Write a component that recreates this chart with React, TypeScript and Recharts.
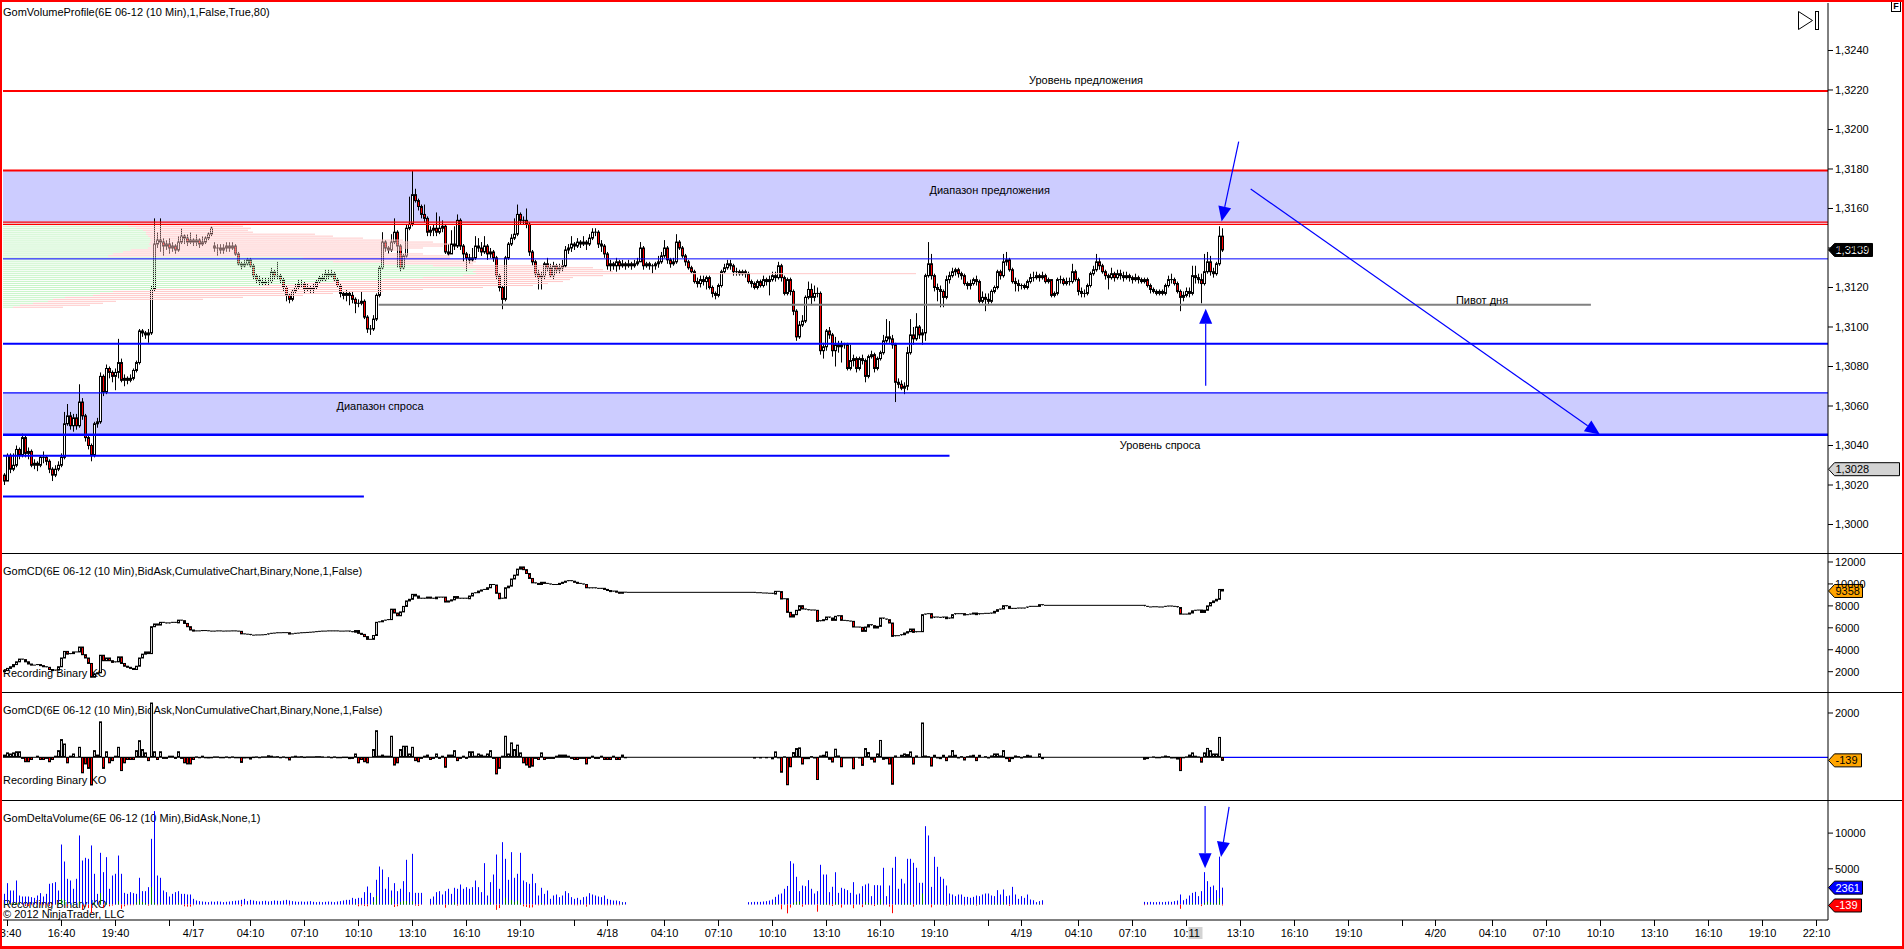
import React from 'react';
import { ComposedChart, Bar, XAxis, YAxis, ReferenceLine, ReferenceArea, ReferenceDot } from 'recharts';

const FONT = '"Liberation Sans", Arial, sans-serif';
const W = 1904;

// ---------- price data (6E 06-12, 10 min), in pips: 13139 = 1,3139 ----------
const firstOpen = 13025;
const gapOpens: [number, number][] = [[70, 13141]];
const closes = [
  13022,13035,13028,13030,13038,13035,13044,13036,13037,13030,
  13031,13030,13034,13034,13032,13028,13025,13028,13030,13034,
  13051,13055,13050,13054,13050,13062,13055,13044,13040,13035,
  13051,13052,13075,13067,13079,13077,13075,13077,13082,13073,
  13074,13073,13074,13078,13082,13098,13097,13096,13097,13119,
  13142,13144,13143,13141,13142,13140,13141,13139,13143,13146,
  13145,13143,13144,13143,13144,13142,13143,13145,13147,13150,
  13140,13140,13139,13140,13141,13140,13141,13137,13132,13131,
  13132,13134,13131,13126,13124,13123,13122,13123,13123,13128,
  13126,13126,13124,13120,13116,13114,13118,13120,13122,13122,
  13119,13120,13119,13120,13123,13125,13124,13127,13126,13127,
  13124,13121,13117,13116,13117,13116,13114,13112,13112,13113,
  13105,13099,13099,13104,13116,13130,13143,13140,13139,13143,
  13148,13141,13130,13136,13150,13152,13167,13164,13161,13157,
  13155,13148,13149,13150,13148,13150,13151,13138,13137,13142,
  13141,13154,13141,13137,13135,13134,13135,13141,13140,13138,
  13141,13137,13138,13135,13126,13120,13114,13135,13142,13145,
  13147,13157,13154,13154,13152,13138,13133,13127,13125,13126,
  13132,13130,13126,13131,13129,13130,13131,13139,13140,13142,
  13141,13143,13142,13143,13142,13145,13148,13148,13142,13141,
  13137,13131,13132,13131,13133,13131,13132,13131,13132,13131,
  13132,13133,13140,13131,13132,13131,13131,13132,13133,13136,
  13140,13134,13132,13133,13143,13140,13136,13133,13130,13128,
  13123,13122,13124,13123,13125,13120,13117,13116,13121,13128,
  13130,13132,13131,13128,13128,13127,13128,13127,13123,13122,
  13120,13123,13121,13124,13123,13124,13126,13125,13131,13125,
  13117,13124,13118,13108,13095,13101,13103,13115,13119,13115,
  13117,13117,13088,13090,13098,13096,13088,13091,13090,13091,
  13091,13079,13083,13084,13079,13084,13083,13075,13085,13086,
  13079,13084,13087,13093,13095,13094,13091,13072,13071,13069,
  13070,13087,13096,13094,13100,13096,13097,13126,13132,13126,
  13120,13119,13118,13115,13124,13126,13128,13129,13127,13126,
  13122,13121,13122,13124,13123,13113,13115,13114,13113,13118,
  13120,13128,13126,13133,13134,13129,13123,13122,13121,13121,
  13120,13123,13125,13125,13126,13125,13126,13123,13124,13116,
  13117,13124,13124,13122,13123,13123,13128,13124,13118,13117,
  13117,13121,13127,13129,13133,13131,13128,13126,13125,13127,
  13125,13127,13126,13125,13126,13125,13124,13125,13124,13123,
  13124,13121,13119,13118,13117,13118,13117,13121,13124,13124,
  13122,13118,13115,13116,13118,13117,13126,13125,13124,13122,
  13128,13133,13128,13127,13132,13146,13139,
];
const highs = [
  13026,13036,13036,13036,13040,13039,13046,13045,13039,13038,
  13033,13032,13035,13037,13035,13033,13029,13030,13032,13036,
  13057,13061,13057,13056,13056,13071,13064,13056,13045,13041,
  13052,13054,13077,13076,13081,13080,13078,13079,13094,13084,
  13076,13075,13076,13079,13083,13099,13099,13098,13099,13121,
  13155,13148,13155,13145,13144,13145,13143,13142,13146,13150,
  13147,13147,13148,13145,13147,13145,13146,13146,13148,13151,
  13143,13142,13142,13142,13143,13143,13143,13142,13138,13133,
  13134,13135,13135,13132,13127,13126,13125,13125,13125,13130,
  13129,13133,13127,13125,13121,13117,13119,13122,13124,13124,
  13123,13122,13121,13122,13124,13126,13127,13129,13129,13129,
  13128,13125,13122,13118,13119,13118,13118,13115,13114,13118,
  13114,13106,13101,13106,13117,13131,13148,13144,13141,13147,
  13155,13149,13142,13137,13152,13166,13179,13170,13165,13162,
  13162,13156,13151,13152,13158,13156,13154,13152,13142,13149,
  13151,13157,13155,13142,13138,13137,13140,13146,13145,13143,
  13146,13142,13140,13139,13136,13127,13121,13136,13143,13147,
  13155,13162,13158,13156,13160,13153,13139,13134,13129,13128,
  13133,13135,13132,13133,13132,13132,13134,13141,13142,13146,
  13143,13145,13144,13146,13144,13147,13150,13150,13149,13144,
  13142,13138,13134,13133,13135,13134,13134,13133,13134,13133,
  13134,13135,13143,13141,13133,13133,13132,13133,13136,13138,
  13144,13141,13135,13135,13147,13144,13141,13137,13134,13131,
  13129,13125,13126,13126,13126,13126,13121,13118,13122,13129,
  13132,13134,13134,13132,13130,13129,13129,13129,13128,13124,
  13123,13124,13124,13126,13125,13126,13128,13128,13133,13132,
  13126,13125,13125,13119,13109,13103,13106,13116,13123,13122,
  13121,13120,13118,13092,13099,13100,13097,13095,13093,13093,
  13092,13092,13091,13086,13085,13085,13086,13084,13086,13088,
  13087,13085,13088,13096,13104,13103,13096,13092,13074,13073,
  13072,13090,13104,13100,13107,13101,13099,13127,13143,13137,
  13127,13122,13121,13119,13126,13128,13130,13130,13130,13128,
  13127,13123,13124,13125,13126,13124,13118,13117,13117,13119,
  13121,13129,13129,13137,13138,13135,13130,13125,13124,13122,
  13122,13124,13127,13128,13128,13127,13128,13127,13125,13124,
  13118,13125,13126,13125,13125,13125,13132,13129,13125,13120,
  13119,13122,13128,13131,13137,13135,13132,13129,13127,13130,
  13128,13129,13129,13128,13128,13127,13126,13127,13126,13125,
  13125,13125,13122,13120,13119,13119,13119,13122,13126,13127,
  13125,13123,13119,13118,13120,13120,13131,13131,13127,13127,
  13137,13138,13136,13130,13133,13151,13150,
];
const lows = [
  13020,13022,13026,13027,13029,13033,13034,13034,13033,13029,
  13028,13027,13029,13031,13030,13026,13022,13024,13027,13029,
  13033,13050,13048,13047,13048,13049,13053,13042,13038,13032,
  13034,13049,13051,13065,13066,13074,13072,13068,13074,13072,
  13070,13071,13072,13073,13077,13081,13095,13094,13092,13096,
  13118,13140,13138,13136,13139,13137,13138,13137,13138,13142,
  13142,13141,13142,13141,13141,13140,13141,13142,13144,13146,
  13138,13136,13137,13137,13138,13138,13139,13136,13131,13129,
  13130,13131,13130,13124,13122,13121,13121,13121,13121,13122,
  13124,13124,13122,13118,13113,13112,13113,13117,13119,13120,
  13117,13118,13117,13117,13119,13122,13123,13123,13124,13125,
  13123,13120,13115,13114,13113,13111,13112,13107,13110,13111,
  13104,13097,13096,13098,13103,13115,13129,13138,13137,13138,
  13142,13130,13128,13129,13135,13149,13151,13163,13159,13155,
  13153,13146,13146,13146,13146,13147,13148,13137,13136,13139,
  13139,13140,13139,13133,13128,13132,13133,13134,13138,13136,
  13137,13134,13135,13133,13124,13118,13109,13113,13134,13141,
  13144,13146,13152,13152,13150,13136,13131,13125,13119,13119,
  13124,13128,13125,13124,13127,13127,13128,13130,13137,13138,
  13139,13140,13140,13141,13139,13141,13144,13146,13140,13138,
  13135,13129,13128,13129,13128,13129,13130,13129,13130,13129,
  13130,13131,13133,13129,13130,13129,13127,13129,13130,13132,
  13135,13132,13130,13131,13132,13139,13135,13131,13129,13127,
  13122,13120,13120,13121,13119,13119,13115,13114,13115,13120,
  13127,13129,13129,13126,13126,13126,13126,13125,13122,13120,
  13119,13119,13120,13120,13121,13116,13123,13123,13124,13123,
  13116,13116,13116,13106,13093,13094,13100,13102,13114,13111,
  13113,13115,13086,13084,13088,13094,13085,13080,13087,13082,
  13089,13078,13078,13080,13077,13078,13081,13072,13074,13084,
  13077,13078,13083,13086,13092,13092,13089,13062,13069,13068,
  13066,13068,13086,13091,13093,13094,13091,13093,13125,13124,
  13118,13113,13110,13110,13114,13122,13125,13126,13125,13124,
  13121,13119,13119,13121,13121,13112,13112,13108,13111,13112,
  13117,13119,13124,13125,13131,13128,13122,13118,13118,13119,
  13119,13119,13122,13123,13124,13123,13124,13122,13122,13115,
  13115,13116,13122,13121,13121,13121,13122,13123,13116,13115,
  13115,13116,13120,13126,13128,13129,13127,13124,13119,13124,
  13123,13124,13124,13123,13124,13123,13122,13123,13122,13122,
  13122,13120,13117,13117,13116,13116,13116,13116,13120,13122,
  13121,13117,13108,13113,13115,13115,13116,13122,13122,13112,
  13121,13127,13126,13125,13126,13131,13138,
];

// ---------- GomCD cumulative delta, recorded segments ----------
const cdFirstOpen = 2000;
const cdSeg1Start = 0;
const cdSeg1 = [
  2100,2300,2450,2650,2900,3150,3100,2900,2700,2600,
  2600,2650,2550,2450,2400,2200,2100,2150,2450,3250,
  3850,3600,3650,3800,3800,4250,3550,3250,2750,1500,
  1800,1900,3500,3000,3250,3000,2850,2900,3350,2750,
  2500,2400,2300,2200,2500,3250,3600,3800,3650,6100,
  6350,6250,6500,6450,6400,6450,6500,6450,6700,6650,
  6400,6100,5800,5700,5720,5700,5750,5730,5700,5680,
  5700,5720,5700,5690,5710,5700,5720,5700,5680,5450,
  5420,5400,5320,5330,5350,5340,5360,5380,5450,5500,
  5520,5550,5540,5560,5550,5430,5450,5500,5520,5550,
  5560,5580,5600,5620,5650,5680,5700,5700,5720,5700,
  5720,5700,5690,5700,5710,5650,5600,5750,5500,5400,
  5200,4950,4950,5300,6500,6550,6650,6700,6750,7700,
  7350,7100,7450,7950,8450,8600,9050,8900,8700,8650,
  8700,8800,8700,8650,8800,8750,8800,8350,8450,8550,
  8850,8700,8650,8700,8650,8900,9150,9200,9350,9450,
  9500,9650,9950,9900,9150,8650,8700,9650,9800,10450,
  10800,11350,11550,11300,10950,10500,10100,10050,9950,10150,
  10050,10000,9950,9900,9950,10050,10150,10250,10300,10250,
  10150,10050,10000,9950,9650,9600,9650,9600,9550,9600,
  9500,9400,9300,9350,9250,9150,9250,9234,
];
const cdSeg2Start = 248;
const cdSeg2 = [
  9234,9234,9200,9200,9173,9173,9150,9150,9080,9325,
  9300,8626,8650,7411,6985,7198,7593,8018,7715,7654,
  7593,7625,7593,6590,6650,6742,6985,6894,6681,7046,
  7107,6681,6650,6620,6590,6073,6073,6043,5678,6073,
  6286,6195,5982,6134,6894,6803,6742,6438,5222,5283,
  5283,5374,5526,5648,5891,5587,5648,5648,7198,7258,
  7289,6894,6985,6955,6894,6985,6833,6894,7198,7289,
  7258,7289,7167,7198,7258,7350,7200,7289,7289,7320,
  7289,7350,7502,7654,7715,8018,7958,7775,7715,7775,
  7806,7775,7806,7897,7958,7958,7958,8110,8049,
];
const cdSeg3Start = 380;
const cdSeg3 = [
  7958,7900,7900,7920,7900,7880,7900,7958,7990,7958,
  7930,7850,7250,7230,7250,7350,7550,7600,7620,7400,
  7600,8000,8300,8450,8600,9497,9358,
];

// ---------- GomDeltaVolume: bar volume, same segments ----------
const volSeg1 = [
  1500,2990,1960,1960,3360,1260,1120,1120,1120,1030,
  930,1260,1590,1120,1490,2900,2990,3130,1960,8400,
  6020,3600,3360,2200,3600,9670,6160,6540,6400,8270,
  4300,1490,7240,4530,6630,2200,4060,4300,6860,4300,
  1630,1490,1730,1590,1490,3740,1870,1870,2430,9200,
  13080,4060,3740,1960,1730,1120,1490,1730,1870,1490,
  1490,1400,1400,790,560,470,420,380,330,420,
  380,450,400,330,380,420,470,520,560,650,
  790,470,650,560,470,420,470,520,420,470,
  560,520,470,560,650,560,470,420,380,420,
  380,420,470,380,330,380,330,380,420,380,
  330,420,470,560,650,650,930,790,930,930,
  1730,2520,1630,1030,3460,5320,4900,2200,3830,1960,
  2990,1870,2200,3270,6260,1730,7100,1630,1630,1630,
  0,0,790,1120,1730,1870,1400,1870,2200,1490,
  2340,2200,2800,2200,2430,2200,2430,3360,2430,1730,
  5790,1260,3130,4200,7000,2200,8730,6400,3460,7330,
  3740,4300,7240,3360,3130,2900,4300,2990,1260,2340,
  1490,1960,790,1260,1400,1030,1260,1870,1590,1030,
  790,930,650,1030,1120,1590,1400,1260,1120,1030,
  1260,790,650,560,560,470,330,330,
];
const volSeg2 = [
  330,330,370,370,370,420,470,560,700,1070,
  1400,1540,2200,2600,6070,5740,3880,1870,2660,2570,
  3410,2200,1540,1870,5560,4200,4200,1730,2480,4520,
  1630,2340,2200,2010,1630,3130,1400,1540,2570,2800,
  2940,1170,2710,2710,2660,5140,1170,2660,5140,6680,
  2200,3600,2940,6400,6400,5840,5140,3040,3040,10970,
  9670,2470,6680,5280,3880,3600,2660,1540,1400,1170,
  1400,1400,1070,1070,940,1070,1260,1170,1400,1540,
  1540,1260,1170,2010,1400,2100,1170,1260,2470,1400,
  790,1170,930,1400,700,600,330,470,600,
];
const volSeg3 = [
  370,330,370,330,330,370,330,370,420,370,
  470,560,1400,600,800,1260,1630,1770,1170,1870,
  4530,3270,2470,2660,2010,6700,2361,
];

// ---------- GomVolumeProfile rows (price level, up volume, total volume) ----------
const profPrices = [
  13152,13151,13150,13149,13148,13147,13146,13145,13144,13143,
  13142,13141,13140,13139,13138,13137,13136,13135,13134,13133,
  13132,13131,13130,13129,13128,13127,13126,13125,13124,13123,
  13122,13121,13120,13119,13118,13117,13116,13115,13114,13113,
  13112,13111,13110,
];
const profUp = [
  1180,1250,1330,1400,1430,1430,1450,1470,1480,1470,
  1460,1480,1450,1280,1200,1100,1050,3000,3100,3300,
  3800,4300,4600,4730,4700,4730,4600,4200,3800,3300,
  3000,2600,2170,1500,1100,970,900,620,500,450,
  300,170,100,
];
const profTotal = [
  2300,2400,2480,2450,2500,3120,3300,3600,4000,4300,
  4470,4400,4200,4000,3830,4200,4470,4470,4600,4730,
  4700,5600,5900,6000,6100,9130,6000,5700,5670,5600,
  5450,5300,4800,4200,3800,3300,3000,2400,2000,1130,
  1000,870,600,
];
const PROFILE_VOL_PER_BAR = 30;

// ---------- drawn levels ----------
const supplyLevel = 13219.5;
const supplyZone = [13152.5, 13179.2];
const supplyZoneLower = [13153.1, 13152.0];
const valueAreaHigh = 13134.5;
const pivotLevel = 13111.3;
const pivotBars = [124.7, 528.8];
const demandLine = 13091.5;
const demandZone = [13045.4, 13066.6];
const lowLevelA = 13034.8;
const lowLevelABar = 315;
const lowLevelB = 13014.2;
const lowLevelBBar = 119.8;
const lastPrice = 13139;
const cursorPrice = 13028;
const lastCd = 9358;
const lastCdBar = -139;
const lastVolume = 2361;
const lastDelta = -139;

// ---------- axes ----------
const priceTicks = [13000,13020,13040,13060,13080,13100,13120,13140,13160,13180,13200,13220,13240];
const cdTicks = [2000,4000,6000,8000,10000,12000];
const cdBarTicks = [2000];
const volTicks = [5000,10000];
const timeTickBars = [1,19,37,55,63,82,100,118,136,154,172,190,201,220,238,256,274,292,310,328,339,358,376,394,412,430,448,466,477,496,514,532,550,568,586,604];
const timeTickLabels = ['13:40','16:40','19:40','','4/17','04:10','07:10','10:10','13:10','16:10','19:10','','4/18','04:10','07:10','10:10','13:10','16:10','19:10','','4/19','04:10','07:10','10:11','13:10','16:10','19:10','','4/20','04:10','07:10','10:10','13:10','16:10','19:10','22:10'];

const X_DOMAIN: [number, number] = [-0.5, 607.8333];
const PRICE_DOMAIN: [number, number] = [12985.57, 13264.05];
const CD_DOMAIN: [number, number] = [149.5, 12820];
const CDBAR_DOMAIN: [number, number] = [-1928, 2948];
const VOL_DOMAIN: [number, number] = [-2171, 14636];

// ---------- build rows ----------
const segs = [
  { start: cdSeg1Start, cum: cdSeg1, vol: volSeg1 },
  { start: cdSeg2Start, cum: cdSeg2, vol: volSeg2 },
  { start: cdSeg3Start, cum: cdSeg3, vol: volSeg3 },
];
const gapMap = new Map<number, number>(gapOpens);
const rows = (() => {
  const cum: number[] = [];
  const vol: number[] = [];
  let last = cdSeg1[0];
  for (let i = 0; i < closes.length; i++) {
    const s = segs.find((g) => i >= g.start && i < g.start + g.cum.length);
    if (s) {
      last = s.cum[i - s.start];
      vol.push(s.vol[i - s.start]);
    } else vol.push(0);
    cum.push(last);
  }
  return closes.map((c, i) => {
    const o = i === 0 ? firstOpen : gapMap.get(i) ?? closes[i - 1];
    const h = Math.max(highs[i], o, c);
    const l = Math.min(lows[i], o, c);
    const co = i === 0 ? cdFirstOpen : cum[i - 1];
    const cc = cum[i];
    return { i, o, h, l, c, co, cc, ch: Math.max(co, cc), cl: Math.min(co, cc), d: cc - co, v: vol[i] };
  });
})();
const lastBar = closes.length - 1;

const fmtPrice = (v: number) => (v / 10000).toFixed(4).replace('.', ',');

// ---------- shapes ----------
const snap = (x: number, w: number) => Math.round(x + w / 2 - 0.5) + 0.5;

const makeCandle = (ok: string, hk: string, lk: string, ck: string, upFill: string, downFill: string) => (props: any) => {
  const { x, y, width, height, payload } = props;
  if (x == null || y == null || !payload) return <g />;
  const hi = payload[hk], lo = payload[lk], op = payload[ok], cl = payload[ck];
  const cx = snap(x, width);
  const span = hi - lo;
  if (!(span > 0)) return <line x1={cx - 1.5} x2={cx + 1.5} y1={y} y2={y} stroke="#000" strokeWidth={1} />;
  const py = (v: number) => y + ((hi - v) / span) * height;
  const yo = py(op), yc = py(cl);
  const top = Math.min(yo, yc), bot = Math.max(yo, yc);
  return (
    <g>
      <line x1={cx} x2={cx} y1={y} y2={y + height} stroke="#000" strokeWidth={1} />
      {bot - top < 1 ? (
        <line x1={cx - 1.5} x2={cx + 1.5} y1={top} y2={top} stroke="#000" strokeWidth={1} />
      ) : (
        <rect x={cx - 1} y={top} width={2} height={bot - top} fill={cl >= op ? upFill : downFill} stroke="#000" strokeWidth={1} />
      )}
    </g>
  );
};
const priceCandle = makeCandle('o', 'h', 'l', 'c', '#FFFFFF', '#FF0000');
const cdCandle = makeCandle('co', 'ch', 'cl', 'cc', '#D3D3D3', '#FF0000');

const deltaBarShape = (props: any) => {
  const { x, y, width, height, payload } = props;
  if (x == null || y == null || !payload) return <g />;
  const cx = snap(x, width);
  const d = payload.d;
  if (d === 0) return <line x1={cx - 1.5} x2={cx + 1.5} y1={y} y2={y} stroke="#000" strokeWidth={1} />;
  return <rect x={cx - 1} y={y} width={2} height={Math.max(height, 0.5)} fill={d > 0 ? '#D3D3D3' : '#FF0000'} stroke="#000" strokeWidth={1} />;
};

const volumeShape = (props: any) => {
  const { x, y, width, height, payload } = props;
  if (x == null || y == null || !payload || !payload.v) return <g />;
  const cx = snap(x, width);
  const top = Math.max(payload.v, payload.d, 0);
  const bottom = Math.min(payload.d, 0);
  const span = top - bottom;
  const py = (v: number) => y + ((top - v) / span) * height;
  const y0 = py(0), yv = py(payload.v), yd = py(payload.d);
  return (
    <g>
      <rect x={cx - 0.5} y={yv} width={1} height={y0 - yv} fill="#0000FF" />
      {payload.d > 0 && <rect x={cx - 0.5} y={yd} width={1} height={y0 - yd} fill="#008000" />}
      {payload.d < 0 && <rect x={cx - 0.5} y={y0} width={1} height={yd - y0} fill="#FF0000" />}
    </g>
  );
};

const Arrow = (props: any) => {
  const { x1, y1, x2, y2 } = props;
  if ([x1, y1, x2, y2].some((v) => v == null || isNaN(v))) return <g />;
  const dx = x2 - x1, dy = y2 - y1;
  const len = Math.hypot(dx, dy) || 1;
  const ux = dx / len, uy = dy / len;
  const L = 15, Wd = 6.5;
  const bx = x2 - ux * L, by = y2 - uy * L;
  const px = -uy * Wd, py = ux * Wd;
  return (
    <g>
      <line x1={x1} y1={y1} x2={bx} y2={by} stroke="#0000FF" strokeWidth={1.2} />
      <polygon points={`${x2},${y2} ${bx + px},${by + py} ${bx - px},${by - py}`} fill="#0000FF" />
    </g>
  );
};

const makeTag = (text: string, w: number, bg: string, fg: string) => (props: any) => {
  const { cx, cy } = props;
  if (cx == null || cy == null) return <g />;
  const x0 = cx + 0.5;
  return (
    <g>
      <polygon
        points={`${x0},${cy} ${x0 + 6},${cy - 6.5} ${x0 + w},${cy - 6.5} ${x0 + w},${cy + 6.5} ${x0 + 6},${cy + 6.5}`}
        fill={bg}
        stroke="#000"
        strokeWidth={1}
      />
      <text x={x0 + 7} y={cy + 4} fontSize={11} fill={fg} fontFamily={FONT}>{text}</text>
    </g>
  );
};

const TimeTick = (props: any) => {
  const { x, y, payload } = props;
  const idx = timeTickBars.indexOf(payload.value);
  const label = idx >= 0 ? timeTickLabels[idx] : '';
  return (
    <g>
      {label === '10:11' && <rect x={x + 2} y={y - 2} width={14} height={12} fill="#D3D3D3" />}
      <text x={x} y={y + 8} textAnchor="middle" fontSize={11} fill="#000" fontFamily={FONT}>{label}</text>
    </g>
  );
};

const tickStyle = { fontSize: 11, fill: '#000', fontFamily: FONT };
const yAxisProps = {
  orientation: 'right' as const,
  type: 'number' as const,
  width: 76,
  tickSize: 5,
  tickMargin: 2,
  allowDataOverflow: true,
  interval: 0 as const,
  axisLine: { stroke: '#000' },
  tickLine: { stroke: '#000' },
  tick: tickStyle,
};
const margin = { top: 0, right: 0, bottom: 0, left: 3 };
const labelStyle = { fontSize: 11, fill: '#000', fontFamily: FONT };

const Txt = ({ x, y, children }: { x: number; y: number; children: React.ReactNode }) => (
  <div style={{ position: 'absolute', left: x, top: y, fontSize: 11, lineHeight: '13px', fontFamily: FONT, color: '#000', whiteSpace: 'nowrap' }}>{children}</div>
);

const textLabel = (bar: number, price: number, text: string) => (
  <ReferenceDot key={text} x={bar} y={price} r={1} fill="none" stroke="none" ifOverflow="visible" label={{ value: text, position: 'center', ...labelStyle }} />
);

export default function App() {
  return (
    <div style={{ position: 'absolute', left: 0, top: 0, width: W, height: 949, background: '#fff', overflow: 'hidden' }}>
      <Txt x={3} y={6}>GomVolumeProfile(6E 06-12 (10 Min),1,False,True,80)</Txt>
      <Txt x={3} y={565}>GomCD(6E 06-12 (10 Min),BidAsk,CumulativeChart,Binary,None,1,False)</Txt>
      <Txt x={3} y={667}>Recording Binary KO</Txt>
      <Txt x={3} y={704}>GomCD(6E 06-12 (10 Min),BidAsk,NonCumulativeChart,Binary,None,1,False)</Txt>
      <Txt x={3} y={774}>Recording Binary KO</Txt>
      <Txt x={3} y={811.5}>GomDeltaVolume(6E 06-12 (10 Min),BidAsk,None,1)</Txt>
      <Txt x={3} y={898}>Recording Binary KO</Txt>
      <Txt x={3} y={907.5}>© 2012 NinjaTrader, LLC</Txt>

      {/* main price panel */}
      <div style={{ position: 'absolute', left: 0, top: 3 }}>
        <ComposedChart width={W} height={550} data={rows} margin={margin}>
          <XAxis type="number" dataKey="i" domain={X_DOMAIN} allowDataOverflow hide />
          <YAxis {...yAxisProps} domain={PRICE_DOMAIN} ticks={priceTicks} tickFormatter={fmtPrice} />
          <ReferenceArea y1={supplyZone[0]} y2={supplyZone[1]} fill="#CCCCFF" fillOpacity={1} stroke="none" />
          <ReferenceArea y1={demandZone[0]} y2={demandZone[1]} fill="#CCCCFF" fillOpacity={1} stroke="none" />
          {profPrices.map((p, k) => (
            <ReferenceLine key={'pd' + k} segment={[{ x: X_DOMAIN[0] + profUp[k] / PROFILE_VOL_PER_BAR, y: p }, { x: X_DOMAIN[0] + profTotal[k] / PROFILE_VOL_PER_BAR, y: p }]} stroke="#FFC8C8" strokeWidth={1} ifOverflow="visible" />
          ))}
          {profPrices.map((p, k) => (
            <ReferenceLine key={'pu' + k} segment={[{ x: X_DOMAIN[0], y: p }, { x: X_DOMAIN[0] + profUp[k] / PROFILE_VOL_PER_BAR, y: p }]} stroke="#C8F5C8" strokeWidth={1} ifOverflow="visible" />
          ))}
          <ReferenceLine y={supplyLevel} stroke="#FF0000" strokeWidth={2} />
          <ReferenceLine y={supplyZone[1]} stroke="#FF0000" strokeWidth={2} />
          <ReferenceLine y={supplyZoneLower[0]} stroke="#FF0000" strokeWidth={1.3} />
          <ReferenceLine y={supplyZoneLower[1]} stroke="#FF0000" strokeWidth={1.3} />
          <ReferenceLine y={valueAreaHigh} stroke="#0000FF" strokeWidth={1} />
          <ReferenceLine segment={[{ x: pivotBars[0], y: pivotLevel }, { x: pivotBars[1], y: pivotLevel }]} stroke="#808080" strokeWidth={2} />
          <ReferenceLine y={demandLine} stroke="#0000FF" strokeWidth={2} />
          <ReferenceLine y={demandZone[1]} stroke="#0000FF" strokeWidth={1.2} />
          <ReferenceLine y={demandZone[0]} stroke="#0000FF" strokeWidth={2.5} />
          <ReferenceLine segment={[{ x: X_DOMAIN[0], y: lowLevelA }, { x: lowLevelABar, y: lowLevelA }]} stroke="#0000FF" strokeWidth={2} />
          <ReferenceLine segment={[{ x: X_DOMAIN[0], y: lowLevelB }, { x: lowLevelBBar, y: lowLevelB }]} stroke="#0000FF" strokeWidth={2} />
          <Bar dataKey={(r: any) => [r.l, r.h]} barSize={3} shape={priceCandle} isAnimationActive={false} />
          {textLabel(360.5, 13225.1, 'Уровень предложения')}
          {textLabel(328.4, 13169.4, 'Диапазон предложения')}
          {textLabel(492.5, 13113.7, 'Пивот дня')}
          {textLabel(125.2, 13060, 'Диапазон спроса')}
          {textLabel(385.2, 13040.3, 'Уровень спроса')}
          <ReferenceLine segment={[{ x: 411.4, y: 13193.9 }, { x: 405.7, y: 13153.4 }]} shape={Arrow} ifOverflow="visible" />
          <ReferenceLine segment={[{ x: 400.4, y: 13070.3 }, { x: 400.4, y: 13109.3 }]} shape={Arrow} ifOverflow="visible" />
          <ReferenceLine segment={[{ x: 415.4, y: 13169.9 }, { x: 531.8, y: 13045.6 }]} shape={Arrow} ifOverflow="visible" />
          <ReferenceDot x={X_DOMAIN[1]} y={lastPrice} r={1} ifOverflow="visible" shape={makeTag(fmtPrice(lastPrice), 44, '#000000', '#FFFFFF')} />
          <ReferenceDot x={X_DOMAIN[1]} y={cursorPrice} r={1} ifOverflow="visible" shape={makeTag(fmtPrice(cursorPrice), 71, '#D3D3D3', '#000000')} />
        </ComposedChart>
      </div>

      {/* cumulative delta */}
      <div style={{ position: 'absolute', left: 0, top: 553 }}>
        <ComposedChart width={W} height={139} data={rows} margin={margin}>
          <XAxis type="number" dataKey="i" domain={X_DOMAIN} allowDataOverflow hide />
          <YAxis {...yAxisProps} domain={CD_DOMAIN} ticks={cdTicks} />
          <Bar dataKey={(r: any) => [r.cl, r.ch]} barSize={3} shape={cdCandle} isAnimationActive={false} />
          <ReferenceDot x={X_DOMAIN[1]} y={lastCd} r={1} ifOverflow="visible" shape={makeTag(String(lastCd), 34, '#FFA500', '#000000')} />
        </ComposedChart>
      </div>

      {/* non-cumulative delta */}
      <div style={{ position: 'absolute', left: 0, top: 692 }}>
        <ComposedChart width={W} height={108} data={rows} margin={margin}>
          <XAxis type="number" dataKey="i" domain={X_DOMAIN} allowDataOverflow hide />
          <YAxis {...yAxisProps} domain={CDBAR_DOMAIN} ticks={cdBarTicks} />
          <ReferenceLine segment={[{ x: lastBar + 0.5, y: 0 }, { x: X_DOMAIN[1], y: 0 }]} stroke="#0000FF" strokeWidth={1.2} />
          <Bar dataKey={(r: any) => [Math.min(0, r.d), Math.max(0, r.d)]} barSize={3} shape={deltaBarShape} isAnimationActive={false} />
          <ReferenceDot x={X_DOMAIN[1]} y={lastCdBar} r={1} ifOverflow="visible" shape={makeTag(String(lastCdBar), 33, '#FFA500', '#000000')} />
        </ComposedChart>
      </div>

      {/* delta volume + time axis */}
      <div style={{ position: 'absolute', left: 0, top: 800 }}>
        <ComposedChart width={W} height={149} data={rows} margin={margin}>
          <XAxis
            type="number"
            dataKey="i"
            domain={X_DOMAIN}
            allowDataOverflow
            ticks={timeTickBars}
            interval={0}
            height={29}
            tickSize={6}
            tickMargin={3}
            axisLine={{ stroke: '#000' }}
            tickLine={{ stroke: '#000' }}
            tick={(p: any) => <TimeTick {...p} />}
          />
          <YAxis {...yAxisProps} domain={VOL_DOMAIN} ticks={volTicks} />
          <Bar dataKey={(r: any) => [Math.min(0, r.d), Math.max(r.v, r.d, 0)]} barSize={3} shape={volumeShape} isAnimationActive={false} />
          <ReferenceLine segment={[{ x: 400.2, y: 13810 }, { x: 400.2, y: 5080 }]} shape={Arrow} ifOverflow="visible" />
          <ReferenceLine segment={[{ x: 408.2, y: 13670 }, { x: 405.5, y: 6670 }]} shape={Arrow} ifOverflow="visible" />
          <ReferenceDot x={X_DOMAIN[1]} y={lastVolume} r={1} ifOverflow="visible" shape={makeTag(String(lastVolume), 34, '#0000FF', '#FFFFFF')} />
          <ReferenceDot x={X_DOMAIN[1]} y={lastDelta} r={1} ifOverflow="visible" shape={makeTag(String(lastDelta), 33, '#FF0000', '#FFFFFF')} />
        </ComposedChart>
      </div>

      {/* panel separators */}
      {[553, 692, 800].map((t) => (
        <div key={t} style={{ position: 'absolute', left: 2, top: t, width: 1900, height: 1, background: '#000' }} />
      ))}

      {/* toolbar glyphs */}
      <svg style={{ position: 'absolute', left: 1795, top: 8 }} width={30} height={26}>
        <polygon points="3.5,3.5 17.5,12.5 3.5,21.5" fill="none" stroke="#000" strokeWidth={1} />
        <rect x={20.5} y={3.5} width={3} height={18} fill="none" stroke="#000" strokeWidth={1} />
      </svg>
      <div style={{ position: 'absolute', left: 1891, top: 1, width: 10, height: 11, border: '1px solid #000', boxSizing: 'border-box', fontSize: 9, lineHeight: '9px', fontWeight: 'bold', fontFamily: FONT, textAlign: 'center', background: '#fff' }}>F</div>

      {/* frame */}
      <div style={{ position: 'absolute', left: 0, top: 0, width: W, height: 949, borderStyle: 'solid', borderColor: '#FF0000', borderWidth: '2px 2px 3px 2px', boxSizing: 'border-box', pointerEvents: 'none' }} />
    </div>
  );
}
